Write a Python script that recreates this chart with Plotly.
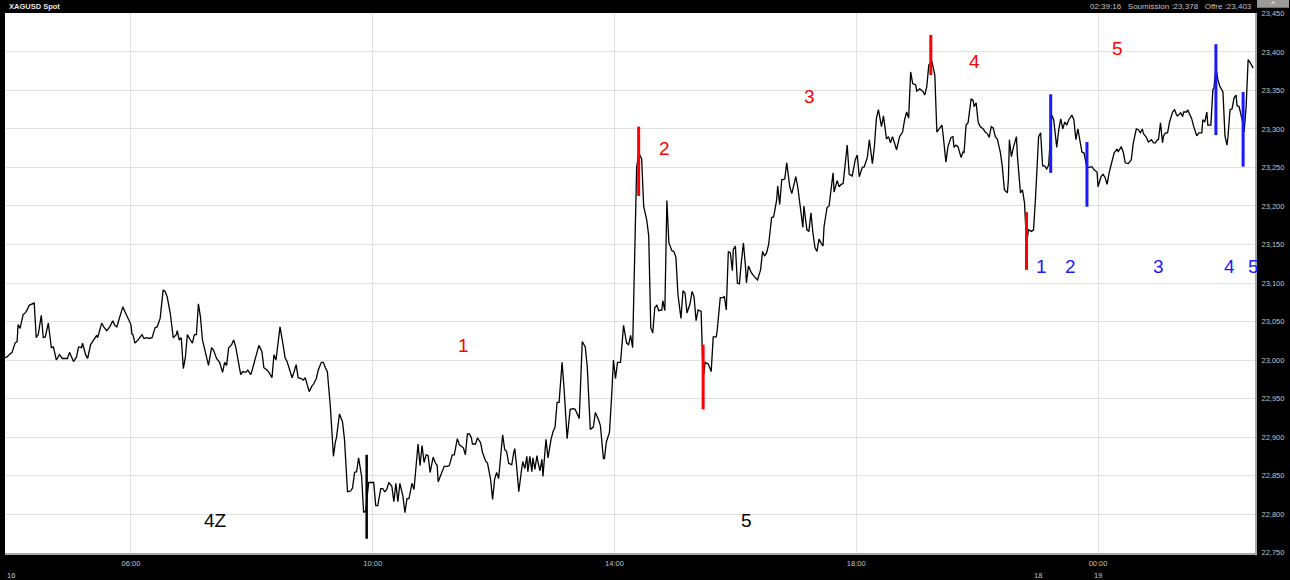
import pandas as pd
import plotly.graph_objects as go

FRIDAY = pd.Timestamp("2024-02-16")
MONDAY = pd.Timestamp("2024-02-19")

# ---- price series (minutes after midnight of the session day) ----
fri_minutes = [
    235, 237, 240, 242, 245, 247, 248, 250, 253, 255, 257, 259, 262, 264, 266, 268, 271, 273, 275, 278,
    281, 283, 286, 289, 292, 295, 297, 299, 303, 306, 308, 311, 312, 315, 317, 320, 322, 326, 327, 331,
    333, 336, 339, 342, 344, 346, 348, 352, 354, 357, 360, 361, 362, 364, 367, 371, 373, 376, 378, 381,
    384, 386, 389, 392, 394, 396, 399, 402, 405, 406, 408, 410, 412, 414, 416, 419, 421, 423, 425, 427,
    429, 431, 432, 435, 437, 440, 442, 445, 448, 451, 453, 455, 457, 460, 462, 464, 466, 469, 471, 474,
    476, 479, 481, 484, 487, 490, 492, 495, 497, 500, 502, 504, 508, 511, 513, 515, 518, 520, 522, 524,
    526, 529, 531, 533, 535, 537, 540, 541, 544, 546, 549, 551, 553, 555, 558, 561, 563, 564, 567, 570,
    572, 575, 578, 580, 582, 584, 586, 589, 591, 593, 596, 599, 601, 603, 605, 608, 610, 612, 614, 616,
    619, 621, 623, 625, 627, 630, 632, 634, 636, 639, 641, 645, 647, 649, 651, 653, 655, 657, 660, 662,
    664, 665, 668, 671, 674, 676, 679, 681, 684, 686, 690, 692, 694, 696, 698, 699, 702, 704, 707, 709,
    712, 714, 717, 719, 721, 723, 725, 728, 729, 731, 733, 735, 738, 740, 741, 743, 745, 748, 749, 751,
    753, 754, 756, 758, 759, 761, 763, 764, 766, 768, 769, 772, 774, 777, 779, 781, 783, 785, 788, 790,
    793, 796, 799, 801, 803, 805, 808, 811, 813, 816, 819, 821, 824, 826, 829, 830, 832, 835, 837, 839,
    841, 843, 846, 849, 852, 854, 856, 858, 862, 864, 867, 869, 872, 874, 876, 878, 880, 882, 884, 887,
    888, 890, 892, 894, 897, 899, 901, 903, 906, 908, 910, 912, 915, 917, 919, 921, 923, 926, 928, 930,
    933, 936, 938, 941, 942, 945, 948, 949, 951, 953, 955, 957, 958, 960, 962, 964, 966, 968, 970, 971,
    973, 976, 979, 982, 985, 987, 989, 991, 993, 996, 998, 1001, 1002, 1004, 1006, 1009, 1011, 1014, 1016, 1020,
    1022, 1024, 1027, 1028, 1031, 1033, 1035, 1037, 1039, 1041, 1043, 1045, 1047, 1048, 1051, 1053, 1057, 1058, 1061, 1063,
    1065, 1067, 1071, 1073, 1076, 1079, 1081, 1083, 1086, 1088, 1091, 1093, 1095, 1096, 1098, 1100, 1102, 1105, 1107, 1110,
    1112, 1114, 1116, 1118, 1120, 1123, 1126, 1128, 1130, 1132, 1134, 1136, 1139, 1140, 1143, 1146, 1148, 1150, 1152, 1155,
    1158, 1160, 1163, 1165, 1166, 1169, 1171, 1174, 1176, 1177, 1179, 1181, 1184, 1186, 1187, 1189, 1191, 1194, 1196, 1197,
    1199, 1201, 1203, 1206, 1208, 1210, 1212, 1214, 1216, 1218, 1220, 1223, 1225, 1227, 1230, 1231, 1232, 1234, 1236, 1239,
    1240, 1243, 1245, 1247, 1249, 1251, 1254, 1256, 1258,
]
fri_prices = [
    23.003, 23.004, 23.008, 23.010, 23.022, 23.024, 23.046, 23.041, 23.059, 23.061, 23.065, 23.071, 23.073, 23.074, 23.029, 23.033, 23.058, 23.029, 23.030, 23.048,
    23.016, 23.017, 23.000, 23.007, 23.002, 23.002, 23.002, 23.010, 22.998, 23.004, 23.017, 23.016, 23.022, 23.007, 23.002, 23.020, 23.024, 23.032, 23.029, 23.048,
    23.043, 23.038, 23.043, 23.051, 23.045, 23.043, 23.052, 23.069, 23.063, 23.055, 23.046, 23.034, 23.033, 23.022, 23.026, 23.033, 23.028, 23.029, 23.028, 23.029,
    23.042, 23.043, 23.054, 23.091, 23.089, 23.082, 23.061, 23.029, 23.033, 23.038, 23.026, 23.029, 22.989, 23.003, 23.033, 23.026, 23.022, 23.033, 23.033, 23.073,
    23.056, 23.026, 23.020, 23.003, 22.993, 23.016, 23.013, 23.002, 22.997, 22.984, 22.997, 22.993, 23.016, 23.020, 23.026, 23.017, 23.003, 22.981, 22.985, 22.984,
    22.987, 22.981, 22.990, 23.004, 23.019, 23.011, 22.990, 22.987, 22.984, 22.977, 23.007, 23.000, 23.043, 23.020, 23.003, 22.998, 22.987, 22.977, 22.985, 22.994,
    22.977, 22.976, 22.974, 22.977, 22.968, 22.959, 22.967, 22.968, 22.976, 22.987, 22.997, 22.997, 22.990, 22.985, 22.939, 22.875, 22.894, 22.899, 22.930, 22.920,
    22.897, 22.829, 22.830, 22.834, 22.854, 22.855, 22.873, 22.849, 22.802, 22.804, 22.841, 22.841, 22.841, 22.811, 22.811, 22.833, 22.833, 22.829, 22.832, 22.841,
    22.836, 22.816, 22.840, 22.816, 22.840, 22.823, 22.802, 22.820, 22.820, 22.840, 22.832, 22.891, 22.863, 22.889, 22.867, 22.877, 22.876, 22.854, 22.874, 22.867,
    22.863, 22.842, 22.852, 22.862, 22.862, 22.863, 22.877, 22.877, 22.898, 22.890, 22.886, 22.877, 22.904, 22.904, 22.899, 22.891, 22.891, 22.899, 22.893, 22.880,
    22.869, 22.866, 22.845, 22.819, 22.845, 22.854, 22.846, 22.884, 22.903, 22.884, 22.881, 22.866, 22.864, 22.880, 22.885, 22.860, 22.829, 22.860, 22.868, 22.859,
    22.875, 22.855, 22.875, 22.855, 22.873, 22.858, 22.876, 22.868, 22.856, 22.871, 22.849, 22.897, 22.873, 22.897, 22.907, 22.913, 22.945, 22.945, 22.997, 22.962,
    22.898, 22.936, 22.937, 22.936, 22.930, 22.924, 23.024, 23.017, 22.991, 22.910, 22.913, 22.932, 22.923, 22.915, 22.872, 22.872, 22.894, 22.906, 22.949, 23.000,
    22.976, 22.997, 22.997, 23.045, 23.022, 23.020, 23.032, 23.016, 23.250, 23.269, 23.261, 23.199, 23.182, 23.161, 23.042, 23.035, 23.068, 23.071, 23.064, 23.065,
    23.077, 23.064, 23.207, 23.152, 23.142, 23.141, 23.133, 23.085, 23.054, 23.090, 23.087, 23.061, 23.073, 23.089, 23.082, 23.051, 23.065, 23.063, 22.976, 22.997,
    22.995, 22.985, 23.030, 23.030, 23.039, 23.081, 23.081, 23.083, 23.065, 23.141, 23.139, 23.116, 23.144, 23.148, 23.100, 23.099, 23.128, 23.152, 23.122, 23.100,
    23.122, 23.113, 23.108, 23.104, 23.117, 23.141, 23.135, 23.139, 23.150, 23.185, 23.186, 23.208, 23.226, 23.202, 23.234, 23.235, 23.256, 23.225, 23.216, 23.238,
    23.224, 23.202, 23.172, 23.200, 23.169, 23.167, 23.191, 23.165, 23.146, 23.141, 23.157, 23.152, 23.148, 23.173, 23.198, 23.200, 23.243, 23.218, 23.233, 23.225,
    23.228, 23.229, 23.279, 23.241, 23.239, 23.260, 23.266, 23.238, 23.250, 23.251, 23.263, 23.286, 23.260, 23.255, 23.277, 23.314, 23.325, 23.303, 23.317, 23.287,
    23.290, 23.282, 23.290, 23.282, 23.273, 23.290, 23.296, 23.312, 23.322, 23.314, 23.374, 23.359, 23.357, 23.349, 23.352, 23.349, 23.344, 23.355, 23.383, 23.388,
    23.370, 23.296, 23.301, 23.305, 23.295, 23.257, 23.277, 23.289, 23.290, 23.276, 23.279, 23.277, 23.263, 23.270, 23.269, 23.305, 23.308, 23.339, 23.337, 23.329,
    23.334, 23.309, 23.303, 23.300, 23.296, 23.294, 23.289, 23.303, 23.301, 23.290, 23.287, 23.270, 23.251, 23.221, 23.217, 23.234, 23.286, 23.264, 23.276, 23.290,
    23.264, 23.217, 23.221, 23.204, 23.152, 23.169, 23.167, 23.169, 23.212,
]
mon_minutes = [
    -59, -57, -55, -53, -51, -49, -46, -44, -41, -39, -37, -35, -33, -31, -29, -26, -24, -22, -20, -16,
    -14, -11, -9, -6, -4, -1, 0, 3, 5, 7, 9, 11, 14, 16, 19, 20, 23, 25, 27, 30,
    33, 35, 38, 40, 42, 44, 45, 48, 50, 53, 55, 57, 59, 60, 62, 64, 65, 67, 69, 71,
    74, 76, 78, 79, 82, 84, 85, 88, 89, 91, 93, 95, 98, 100, 103, 104, 106, 108, 109, 112,
    114, 115, 117, 119, 121, 124, 126, 128, 129, 131, 133, 135, 137, 138, 140, 143, 145, 147, 149, 151,
    154,
]
mon_prices = [
    23.290, 23.295, 23.252, 23.252, 23.248, 23.253, 23.318, 23.312, 23.276, 23.299, 23.313, 23.300, 23.309, 23.305, 23.312, 23.318, 23.312, 23.286, 23.300, 23.270,
    23.269, 23.250, 23.250, 23.251, 23.247, 23.244, 23.225, 23.238, 23.241, 23.237, 23.228, 23.243, 23.260, 23.269, 23.274, 23.270, 23.277, 23.270, 23.256, 23.255,
    23.260, 23.282, 23.300, 23.299, 23.295, 23.300, 23.294, 23.289, 23.283, 23.286, 23.282, 23.282, 23.286, 23.286, 23.308, 23.282, 23.291, 23.295, 23.295, 23.309,
    23.322, 23.325, 23.318, 23.317, 23.321, 23.316, 23.322, 23.322, 23.325, 23.318, 23.313, 23.303, 23.291, 23.295, 23.295, 23.312, 23.309, 23.322, 23.305, 23.305,
    23.351, 23.353, 23.379, 23.364, 23.355, 23.348, 23.291, 23.279, 23.290, 23.325, 23.326, 23.340, 23.344, 23.330, 23.329, 23.312, 23.296, 23.329, 23.390, 23.386,
    23.379,
]

# ---- wave-count marker bars ----
mark_times = ["2024-02-16 09:54", "2024-02-16 14:24", "2024-02-16 15:28", "2024-02-16 19:14",
              "2024-02-16 20:49", "2024-02-18 23:13", "2024-02-18 23:49", "2024-02-19 01:57",
              "2024-02-19 02:24"]
mark_low = [22.768, 23.213, 22.936, 23.370, 23.117, 23.243, 23.199, 23.292, 23.251]
mark_high = [22.877, 23.303, 23.020, 23.422, 23.192, 23.345, 23.283, 23.410, 23.348]
mark_colors = ["#000000", "#ff0000", "#ff0000", "#ff0000", "#ff0000",
               "#1a1aff", "#1a1aff", "#1a1aff", "#1a1aff"]

# ---- wave labels ----
label_text = ["1", "2", "3", "4", "5", "1", "2", "3", "4", "5", "4Z", "5"]
label_times = ["2024-02-16 11:30", "2024-02-16 14:50", "2024-02-16 17:14", "2024-02-16 19:57",
               "2024-02-19 00:19", "2024-02-18 23:04", "2024-02-18 23:33", "2024-02-19 01:00",
               "2024-02-19 02:10", "2024-02-19 02:34", "2024-02-16 07:24", "2024-02-16 16:11"]
label_prices = [23.019, 23.274, 23.342, 23.387, 23.405, 23.122, 23.122, 23.122,
                23.122, 23.122, 22.792, 22.792]
label_colors = ["#ff0000"] * 5 + ["#1a1aff"] * 5 + ["#000000"] * 2

# ---- axes ----
y_ticks = [22.75, 22.80, 22.85, 22.90, 22.95, 23.00, 23.05, 23.10, 23.15,
           23.20, 23.25, 23.30, 23.35, 23.40, 23.45]
x_tick_times = ["2024-02-16 06:00", "2024-02-16 10:00", "2024-02-16 14:00",
                "2024-02-16 18:00", "2024-02-19 00:00"]
x_tick_text = ["06:00", "10:00", "14:00", "18:00", "00:00"]
x_start = "2024-02-16 03:55"
x_end = "2024-02-19 02:36:48"
closed_from = "2024-02-16 21:00"
closed_hours = 50

title_text = "XAGUSD Spot"
quote_text = "02:39:16   Soumission :23,378   Offre :23,403"

times = list(FRIDAY + pd.to_timedelta(fri_minutes, unit="min")) + \
    list(MONDAY + pd.to_timedelta(mon_minutes, unit="min"))
prices = fri_prices + mon_prices

fig = go.Figure()
fig.add_trace(go.Scatter(x=times, y=prices, mode="lines",
                         line=dict(color="#000000", width=1.3),
                         hoverinfo="skip", showlegend=False))

for col in ["#000000", "#ff0000", "#1a1aff"]:
    xs, ys = [], []
    for t, lo, hi, c in zip(mark_times, mark_low, mark_high, mark_colors):
        if c == col:
            xs += [t, t, None]
            ys += [lo, hi, None]
    fig.add_trace(go.Scatter(x=xs, y=ys, mode="lines",
                             line=dict(color=col, width=3 if col != "#000000" else 2.5),
                             hoverinfo="skip", showlegend=False))

for txt, t, p, c in zip(label_text, label_times, label_prices, label_colors):
    fig.add_annotation(x=t, y=p, text=txt, showarrow=False,
                       font=dict(family="Liberation Sans", size=19, color=c))

small = dict(family="Liberation Sans", size=7.5, color="#c4c4c4")

fig.add_annotation(xref="paper", yref="paper", x=0.0016, y=1.012, text="<b>%s</b>" % title_text,
                   showarrow=False, xanchor="left", yanchor="middle",
                   font=dict(family="Liberation Sans", size=7.5, color="#e6e6e6"))
fig.add_annotation(xref="paper", yref="paper", x=0.9984, y=1.012, text=quote_text,
                   showarrow=False, xanchor="right", yanchor="middle",
                   font=dict(family="Liberation Sans", size=8, color="#c4c4c4"))
fig.add_annotation(xref="paper", yref="paper", x=0.0, y=-0.041, text="16",
                   showarrow=False, xanchor="left", yanchor="middle", font=small)
fig.add_annotation(x="2024-02-18 23:00", yref="paper", y=-0.041, text="18",
                   showarrow=False, xanchor="center", yanchor="middle", font=small)
fig.add_annotation(x="2024-02-19 00:00", yref="paper", y=-0.041, text="19",
                   showarrow=False, xanchor="center", yanchor="middle", font=small)

# small tab button in the top-right corner
fig.add_shape(type="rect", xref="paper", yref="paper", x0=1.0008, x1=1.0264,
              y0=1.0095, y1=1.024, fillcolor="#9a9a9a", line=dict(width=0), layer="above")
fig.add_annotation(xref="paper", yref="paper", x=1.0136, y=1.0175, text="^",
                   showarrow=False, xanchor="center", yanchor="middle",
                   font=dict(family="Liberation Sans", size=8, color="#ffffff"))

# frame bevel on right / bottom of plot area
fig.add_shape(type="line", xref="paper", yref="paper", x0=1.0, x1=1.0, y0=-0.004, y1=1.0,
              line=dict(color="#a8a8a8", width=2), layer="above")
fig.add_shape(type="line", xref="paper", yref="paper", x0=0.0, x1=1.0, y0=-0.002, y1=-0.002,
              line=dict(color="#a8a8a8", width=2), layer="above")

fig.update_layout(
    width=1290, height=580,
    margin=dict(l=5, r=34, t=13, b=27, pad=0),
    paper_bgcolor="#000000", plot_bgcolor="#ffffff",
    separators=",.",
    showlegend=False,
    xaxis=dict(type="date", range=[x_start, x_end],
               rangebreaks=[dict(values=[closed_from], dvalue=closed_hours * 3600 * 1000)],
               tickmode="array", tickvals=x_tick_times, ticktext=x_tick_text,
               showgrid=True, gridcolor="#e0e0e0", gridwidth=1,
               ticks="outside", ticklen=3, tickcolor="#000000",
               tickfont=small, zeroline=False, showline=False, fixedrange=True),
    yaxis=dict(side="right", range=[22.7495, 23.4505],
               tickmode="array", tickvals=y_ticks, tickformat=".3f",
               showgrid=True, gridcolor="#e0e0e0", gridwidth=1,
               ticks="outside", ticklen=3, tickcolor="#000000",
               tickfont=small, zeroline=False, showline=False, fixedrange=True),
)

fig.write_html("out.html",
               config={"displayModeBar": False},
               post_script="document.body.style.margin='0';document.body.style.background='#000';"
                           "document.body.style.overflow='hidden';")
